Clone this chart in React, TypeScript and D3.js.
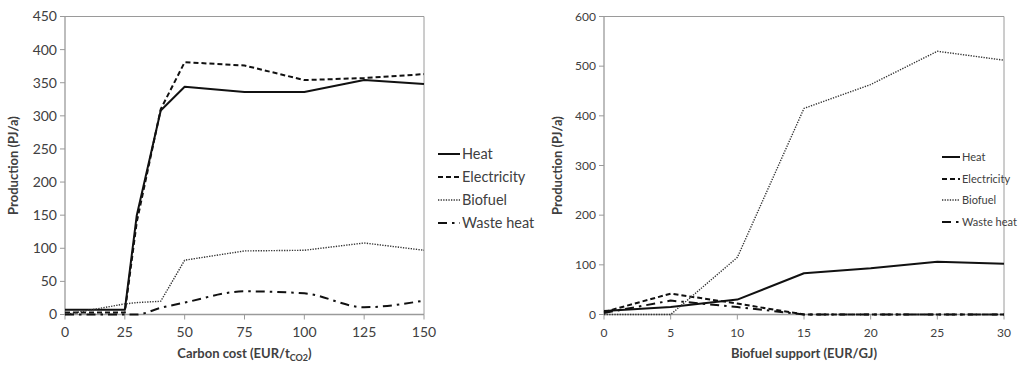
import * as d3 from 'd3'

// left panel: carbon cost (EUR/tCO2)
const carbonX = [0, 25, 30, 40, 50, 75, 100, 125, 150]
const carbonHeat = [7, 7, 150, 308, 344, 336, 336, 354, 348]
const carbonElec = [3, 3, 140, 310, 381, 376, 354, 357, 363]
const carbonBio = [0, 16, 18, 20, 82, 96, 97, 108, 97]
const carbonWaste = [0, 0, 0, 10, 18, 35, 32, 11, 21]
const carbonXTicks = [0, 25, 50, 75, 100, 125, 150]
const carbonYTicks = [0, 50, 100, 150, 200, 250, 300, 350, 400, 450]

// right panel: biofuel support (EUR/GJ)
const supportX = [0, 5, 10, 15, 20, 25, 30]
const supportHeat = [7, 15, 30, 83, 93, 106, 102]
const supportElec = [5, 42, 22, 0, 0, 0, 0]
const supportBio = [0, 0, 115, 415, 463, 530, 512]
const supportWaste = [3, 28, 15, 0, 0, 0, 0]
const supportXTicks = [0, 5, 10, 15, 20, 25, 30]
const supportYTicks = [0, 100, 200, 300, 400, 500, 600]

const seriesNames = ['Heat', 'Electricity', 'Biofuel', 'Waste heat']

const styles = [
  { dash: null, width: 2, color: '#111' },
  { dash: '5,3', width: 2, color: '#111' },
  { dash: '1.3,1.3', width: 1.4, color: '#333' },
  { dash: '9,5,2.5,5', width: 2, color: '#111' },
]

const FONT = 'Lato, "Open Sans", sans-serif'
const AXIS = '#9a9a9a'
const TEXT = '#404040'

interface PanelProps {
  xs: number[]
  series: number[][]
  xTicks: number[]
  yTicks: number[]
  xDomain: [number, number]
  yDomain: [number, number]
  left: number
  right: number
  top: number
  bottom: number
  xTitle: React.ReactNode
  yTitleOffset: number
  tickSize: number
  legendX: number
  legendY: number[]
  legendFont: number
  legendLine: number
  smoothWaste: boolean
}

function Panel(p: PanelProps) {
  const x = d3.scaleLinear().domain(p.xDomain).range([p.left, p.right])
  const y = d3.scaleLinear().domain(p.yDomain).range([p.bottom, p.top])
  const cx = (p.left + p.right) / 2
  const cy = (p.top + p.bottom) / 2

  return (
    <g fontFamily={FONT}>
      {/* axes & frame */}
      <line x1={p.left} x2={p.right} y1={p.top} y2={p.top} stroke={AXIS} strokeWidth={1} />
      <line x1={p.right} x2={p.right} y1={p.top} y2={p.bottom} stroke={AXIS} strokeWidth={1} />
      <line x1={p.left} x2={p.left} y1={p.top} y2={p.bottom} stroke={AXIS} strokeWidth={1.3} />
      <line x1={p.left} x2={p.right} y1={p.bottom} y2={p.bottom} stroke={AXIS} strokeWidth={1.3} />
      {p.yTicks.map((t) => (
        <g key={'y' + t}>
          <line x1={p.left - 5} x2={p.left} y1={y(t)} y2={y(t)} stroke={AXIS} />
          <text x={p.left - 8} y={y(t)} dy="0.35em" textAnchor="end" fontSize={p.tickSize} fill={TEXT}>
            {t}
          </text>
        </g>
      ))}
      {p.xTicks.map((t) => (
        <g key={'x' + t}>
          <line x1={x(t)} x2={x(t)} y1={p.bottom} y2={p.bottom + 5} stroke={AXIS} />
          <text x={x(t)} y={p.bottom + 22} textAnchor="middle" fontSize={p.tickSize} fill={TEXT}>
            {t}
          </text>
        </g>
      ))}
      <text x={cx} y={p.bottom + 43} textAnchor="middle" fontSize={13} fontWeight="bold" fill={TEXT}>
        {p.xTitle}
      </text>
      <text
        transform={`translate(${p.left - p.yTitleOffset},${cy}) rotate(-90)`}
        textAnchor="middle"
        fontSize={13}
        fontWeight="bold"
        fill={TEXT}
      >
        Production (PJ/a)
      </text>

      {/* series */}
      {p.series.map((vals, i) => {
        const line = d3
          .line<number>()
          .x((_, j) => x(p.xs[j]))
          .y((d) => y(d))
          .curve(i === 3 && p.smoothWaste ? d3.curveMonotoneX : d3.curveLinear)
        const s = styles[i]
        return (
          <path
            key={i}
            d={line(vals) ?? ''}
            fill="none"
            stroke={s.color}
            strokeWidth={s.width}
            strokeDasharray={s.dash ?? undefined}
            strokeLinejoin="round"
          />
        )
      })}

      {/* legend */}
      {seriesNames.map((name, i) => {
        const s = styles[i]
        const ly = p.legendY[i]
        return (
          <g key={name}>
            <line
              x1={p.legendX}
              x2={p.legendX + p.legendLine}
              y1={ly}
              y2={ly}
              stroke={s.color}
              strokeWidth={s.width}
              strokeDasharray={s.dash ?? undefined}
            />
            <text x={p.legendX + p.legendLine + 2} y={ly} dy="0.35em" fontSize={p.legendFont} fill={TEXT}>
              {name}
            </text>
          </g>
        )
      })}
    </g>
  )
}

export default function App() {
  return (
    <svg
      width={1019}
      height={366}
      style={{ position: 'absolute', left: 0, top: 0, background: '#fff' }}
    >
      <Panel
        xs={carbonX}
        series={[carbonHeat, carbonElec, carbonBio, carbonWaste]}
        xTicks={carbonXTicks}
        yTicks={carbonYTicks}
        xDomain={[0, 150]}
        yDomain={[0, 450]}
        left={65}
        right={424}
        top={16.5}
        bottom={314.5}
        xTitle={
          <>
            Carbon cost (EUR/t
            <tspan fontSize={9} dy={3}>
              CO2
            </tspan>
            <tspan dy={-3}>)</tspan>
          </>
        }
        yTitleOffset={47}
        tickSize={14}
        legendX={438}
        legendY={[154, 177, 200, 223]}
        legendFont={14.5}
        legendLine={22}
        smoothWaste={true}
      />
      <Panel
        xs={supportX}
        series={[supportHeat, supportElec, supportBio, supportWaste]}
        xTicks={supportXTicks}
        yTicks={supportYTicks}
        xDomain={[0, 30]}
        yDomain={[0, 600]}
        left={604}
        right={1004}
        top={16.5}
        bottom={314.5}
        xTitle="Biofuel support (EUR/GJ)"
        yTitleOffset={42}
        tickSize={12}
        legendX={942}
        legendY={[157, 179, 200, 222]}
        legendFont={11}
        legendLine={18}
        smoothWaste={false}
      />
    </svg>
  )
}
